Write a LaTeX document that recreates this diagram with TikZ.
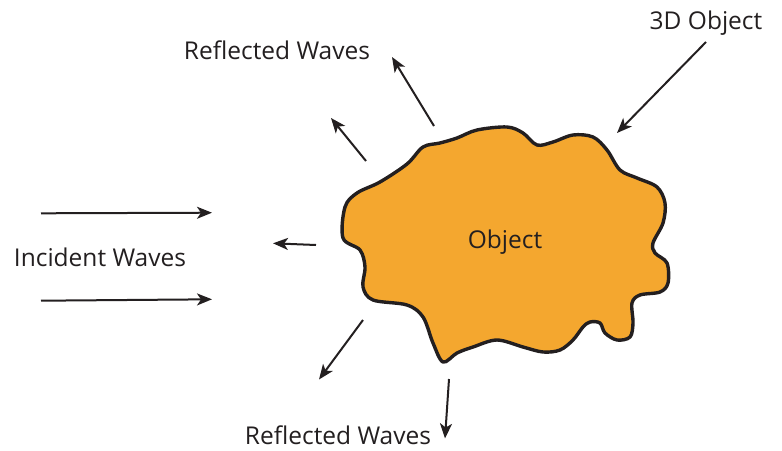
\documentclass[tikz,border=0pt]{standalone}
\usepackage{fontspec}
\setmainfont{Open Sans}
\usetikzlibrary{arrows.meta}
\definecolor{blob}{HTML}{F4A72F}
\definecolor{ink}{HTML}{231F20}
\tikzset{
  lbl/.style={font=\fontsize{24.5}{28}\selectfont, text=ink, inner sep=0pt},
  wave/.style={draw=ink, line width=2pt, -{Stealth[length=15pt,width=12pt,inset=4pt]}},
}
\begin{document}
\begin{tikzpicture}[x=1pt,y=-1pt]
\useasboundingbox (0,0) rectangle (782,450);
% blob
\filldraw[fill=blob, draw=ink, line width=3.4pt, line join=round]
  plot[smooth cycle, tension=0.55] coordinates {
  (343,238) (345,207) (357,193) (380,182) (407,164) (423,147) (440,143)
  (457,138) (477,130) (507,127) (523,133) (537,145) (553,142) (573,135)
  (593,137) (607,150) (620,170) (637,178) (657,187) (665,203) (663,223)
  (653,243) (655,253) (667,263) (668,283) (660,292) (640,295) (632,303)
  (633,323) (630,337) (617,340) (605,333) (600,323) (590,322) (583,327)
  (573,340) (560,350) (543,352) (523,347) (497,340) (473,347) (457,353)
  (443,362) (433,343) (423,317) (407,305) (373,300) (363,287) (365,267)
  (360,250)};
\node[lbl] (obj) at (505,242) {Object};
\node[lbl] (top) at (277,50) {Reflected Waves};
\node[lbl] (bot) at (338,435) {Reflected Waves};
\node[lbl] (inc) at (100,257) {Incident Waves};
\node[lbl] (tdo) at (706,23) {3D Object};
% arrow end points
\coordinate (u1s) at (434,126); \coordinate (u1e) at (392,57);
\coordinate (u2s) at (366,161); \coordinate (u2e) at (331,118);
\coordinate (i1s) at (41,213.3); \coordinate (i1e) at (212,212.7);
\coordinate (i2s) at (41,300.7); \coordinate (i2e) at (212,299.3);
\coordinate (ls) at (316,245); \coordinate (le) at (273,243.3);
\coordinate (d1s) at (363,320); \coordinate (d1e) at (319,379.5);
\coordinate (d2s) at (449,379); \coordinate (d2e) at (445,438.5);
\coordinate (ts) at (706,42); \coordinate (te) at (617,133);
\draw[wave] (u1s) -- (u1e);
\draw[wave] (u2s) -- (u2e);
\draw[wave] (i1s) -- (i1e);
\draw[wave] (i2s) -- (i2e);
\draw[wave] (ls) -- (le);
\draw[wave] (d1s) -- (d1e);
\draw[wave] (d2s) -- (d2e);
\draw[wave] (ts) -- (te);
\end{tikzpicture}
\end{document}
